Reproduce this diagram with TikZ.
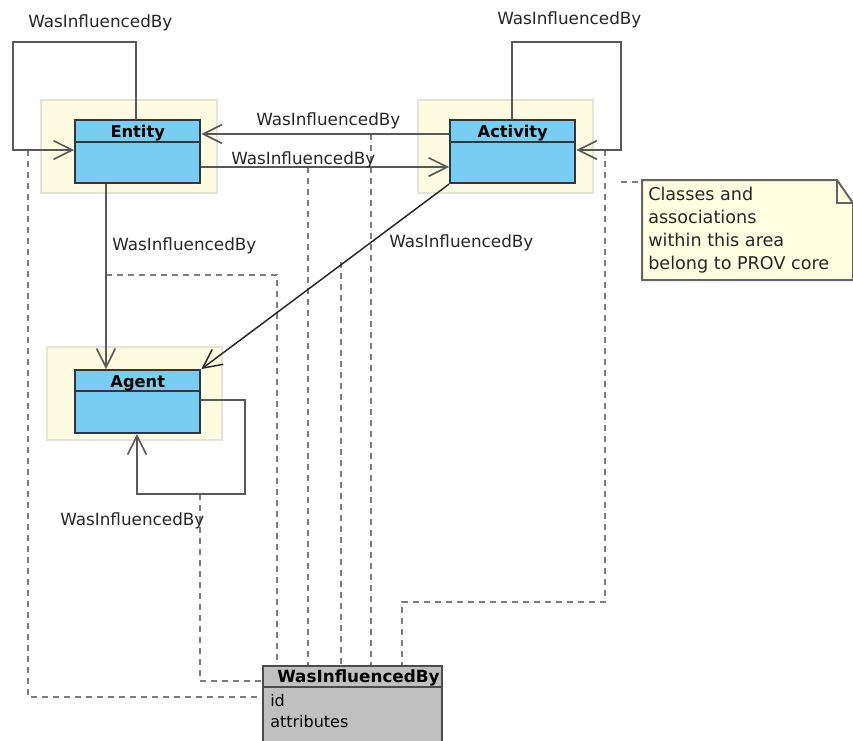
\documentclass[tikz,border=0pt]{standalone}
\usepackage{fontspec}
\setmainfont{DejaVu Sans}
\usetikzlibrary{arrows.meta,calc}
\definecolor{clsfill}{RGB}{120,205,242}
\definecolor{clsdraw}{RGB}{45,55,65}
\definecolor{pkgfill}{RGB}{253,252,224}
\definecolor{pkgdraw}{RGB}{228,228,214}
\definecolor{notefill}{RGB}{255,255,225}
\definecolor{notedraw}{RGB}{100,100,100}
\definecolor{linegray}{RGB}{88,88,88}
\definecolor{dashgray}{RGB}{125,125,125}
\definecolor{boxgray}{RGB}{192,192,192}
\begin{document}
\begin{tikzpicture}[x=0.75pt,y=-0.75pt,
  pkg/.style={draw=pkgdraw, fill=pkgfill, line width=1.2pt},
  cls/.style={draw=clsdraw, fill=clsfill, line width=1.6pt, minimum width=94pt, minimum height=47.25pt, inner sep=0pt, anchor=north west},
  clstitle/.style={font=\fontsize{12.2}{14}\selectfont\bfseries, inner sep=0pt, anchor=base},
  sep/.style={draw=clsdraw, line width=1.6pt},
  assoc/.style={draw=linegray, line width=1.7pt, -{Straight Barb[length=14pt,width=14pt,line width=1.2pt]}},
  diag/.style={draw=black!85, line width=1.1pt, -{Straight Barb[length=14pt,width=14pt,line width=1.1pt]}},
  lbl/.style={font=\fontsize{12.6}{15}\selectfont, text=black!85, inner sep=0pt, anchor=base west},
  dep/.style={draw=dashgray, line width=1.9pt, dash pattern=on 4.5pt off 3.75pt},
  wib/.style={draw=black!70, fill=boxgray, line width=1.6pt, minimum width=134.25pt, minimum height=75pt, inner sep=0pt, anchor=north west},
  notetxt/.style={font=\fontsize{13.2}{17.25}\selectfont, text=black!85, inner sep=0pt, anchor=north west, align=left}
]
\useasboundingbox (0,0) rectangle (853,740);
\clip (0,0) rectangle (853,740);

% package (PROV core) backgrounds
\path[pkg] (41,100) rectangle (217,193);
\path[pkg] (418,100) rectangle (593,193);
\path[pkg] (47,347) rectangle (222,440);

% dashed association-class links (drawn below solid lines)
\node[wib] (wib) at (262,665) {};
\coordinate (d1a) at (28,150);  \coordinate (d1b) at (28,697);
\coordinate (d2a) at (200,494); \coordinate (d2b) at (200,681);
\coordinate (d3a) at (106,275); \coordinate (d3b) at (277,275);
\coordinate (d4a) at (308,167);
\coordinate (d5a) at (341,262);
\coordinate (d6a) at (371,134);
\coordinate (d7a) at (605,150); \coordinate (d7b) at (605,602); \coordinate (d7c) at (402,602);
\draw[dep] (d1a) -- (d1b) -- (d1b -| wib.west);
\draw[dep] (d2a) -- (d2b) -- (d2b -| wib.west);
\draw[dep] (d3a) -- (d3b) -- (d3b |- wib.north);
\draw[dep] (d4a) -- (d4a |- wib.north);
\draw[dep] (d5a) -- (d5a |- wib.north);
\draw[dep] (d6a) -- (d6a |- wib.north);
\draw[dep] (d7a) -- (d7b) -- (d7c) -- (d7c |- wib.north);

% classes
\node[cls] (entity) at (74,119) {};
\node[cls] (activity) at (449,119) {};
\node[cls] (agent) at (74,369) {};
\draw[sep] ($(entity.north west)+(0,23)$) -- ($(entity.north east)+(0,23)$);
\draw[sep] ($(activity.north west)+(0,23)$) -- ($(activity.north east)+(0,23)$);
\draw[sep] ($(agent.north west)+(0,22)$) -- ($(agent.north east)+(0,22)$);
\node[clstitle] (entityt) at ($(entity.north)+(0,18)$) {Entity};
\node[clstitle] (activityt) at ($(activity.north)+(0,18)$) {Activity};
\node[clstitle] (agentt) at ($(agent.north)+(0,18)$) {Agent};

% association class box
\draw[draw=black!70, line width=1.6pt] ($(wib.north west)+(0,22)$) -- ($(wib.north east)+(0,22)$);
\node[font=\fontsize{12.6}{14}\selectfont\bfseries, inner sep=0pt, anchor=base west] (wibt) at (277,682) {WasInfluencedBy};
\node[font=\fontsize{12}{14}\selectfont, inner sep=0pt, anchor=base west] (wibid) at (270,706) {id};
\node[font=\fontsize{12}{14}\selectfont, inner sep=0pt, anchor=base west] (wibattr) at (270,727) {attributes};

% self loops
\coordinate (eL1) at (136,42); \coordinate (eL2) at (13,42); \coordinate (eL3) at (13,150);
\draw[assoc] (entity.north -| eL1) -- (eL1) -- (eL2) -- (eL3) -- (eL3 -| entity.west);
\coordinate (aL1) at (512,42); \coordinate (aL2) at (621,42); \coordinate (aL3) at (621,150);
\draw[assoc] (activity.north -| aL1) -- (aL1) -- (aL2) -- (aL3) -- (aL3 -| activity.east);
\coordinate (gL1) at (245,400); \coordinate (gL2) at (245,494); \coordinate (gL3) at (137,494);
\draw[assoc] (agent.east |- gL1) -- (gL1) -- (gL2) -- (gL3) -- (gL3 |- agent.south);

% straight associations
\coordinate (ae) at (0,134); \coordinate (ea) at (0,167); \coordinate (eg) at (106,0);
\draw[assoc] (activity.west |- ae) -- (entity.east |- ae);
\draw[assoc] (entity.east |- ea) -- (activity.west |- ea);
\draw[assoc] (entity.south -| eg) -- (agent.north -| eg);
\draw[diag] (activity.south west) -- (agent.north east);

% labels
\node[lbl] (l1) at (28,27) {WasInfluencedBy};
\node[lbl] (l2) at (497,24) {WasInfluencedBy};
\node[lbl] (l3) at (256,125) {WasInfluencedBy};
\node[lbl] (l4) at (231,164) {WasInfluencedBy};
\node[lbl] (l5) at (112,250) {WasInfluencedBy};
\node[lbl] (l6) at (389,247) {WasInfluencedBy};
\node[lbl] (l7) at (60,525) {WasInfluencedBy};

% note
\coordinate (nA) at (642,180); \coordinate (nB) at (837,180); \coordinate (nC) at (853,203);
\coordinate (nD) at (853,280); \coordinate (nE) at (642,280);
\draw[draw=notedraw, fill=notefill, line width=1.5pt] (nA) -- (nB) -- (nC) -- (nD) -- (nE) -- cycle;
\draw[draw=notedraw, line width=1.5pt] (nB) -- (nB |- nC) -- (nC);
\node[notetxt] (note) at (648,187) {Classes and\\associations\\within this area\\belong to PROV core};
\coordinate (nlink) at (621,182);
\draw[dep] (nlink) -- (nlink -| nA);
\end{tikzpicture}
\end{document}
